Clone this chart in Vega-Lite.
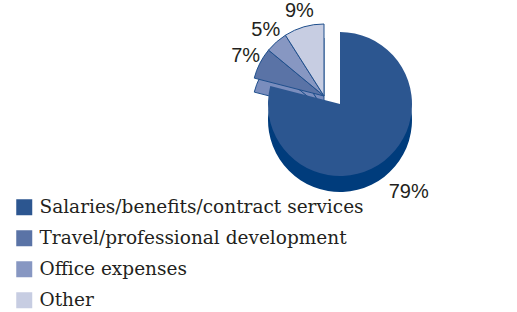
{
  "$schema": "https://vega.github.io/schema/vega-lite/v6.json",
  "autosize": {"type": "none"},
  "width": 160,
  "height": 208,
  "padding": {"left": 260, "top": 0, "right": 97, "bottom": 104},
  "background": "white",
  "config": {
    "view": {"stroke": null}
  },
  "data": {
    "values": [
      {"type": "Salaries/benefits/contract services", "value": 0.79, "rank": 1},
      {"type": "Travel/professional development", "value": 0.07, "rank": 2},
      {"type": "Office expenses", "value": 0.05, "rank": 3},
      {"type": "Other", "value": 0.09, "rank": 4}
    ]
  },
  "encoding": {
    "theta": {"field": "value", "type": "quantitative", "stack": true},
    "order": {"field": "rank", "type": "quantitative"},
    "color": {
      "field": "type",
      "type": "nominal",
      "sort": null,
      "scale": {
        "domain": ["Salaries/benefits/contract services", "Travel/professional development", "Office expenses", "Other"],
        "range": ["#2c5690", "#5a73a6", "#8797c2", "#c7cde2"]
      },
      "legend": {
        "title": null,
        "orient": "none",
        "legendX": -245,
        "legendY": 198,
        "labelFont": "DejaVu Serif",
        "labelFontSize": 18.5,
        "labelColor": "#231f20",
        "labelLimit": 400,
        "labelOffset": 6,
        "rowPadding": 12,
        "symbolType": "square",
        "symbolSize": 256,
        "symbolStrokeWidth": 0,
        "symbolOpacity": 1
      }
    }
  },
  "layer": [
    {
      "mark": {"type": "arc", "radius": 72, "xOffset": -16, "yOffset": 6, "stroke": "#1f4f8c", "strokeWidth": 1},
      "encoding": {
        "color": {"value": "#7a8dbd"},
        "opacity": {"condition": {"test": "datum.rank > 1", "value": 1}, "value": 0}
      }
    },
    {
      "mark": {"type": "arc", "radius": 72, "xOffset": -16, "yOffset": -8, "stroke": "#1f4f8c", "strokeWidth": 1},
      "encoding": {
        "opacity": {"condition": {"test": "datum.rank > 1", "value": 1}, "value": 0}
      }
    },
    {
      "mark": {"type": "arc", "radius": 72, "yOffset": 16},
      "encoding": {
        "color": {"value": "#003c7c"},
        "opacity": {"condition": {"test": "datum.rank == 1", "value": 1}, "value": 0}
      }
    },
    {
      "mark": {"type": "arc", "radius": 72},
      "encoding": {
        "opacity": {"condition": {"test": "datum.rank == 1", "value": 1}, "value": 0}
      }
    },
    {
      "mark": {"type": "text", "radius": 112, "font": "Liberation Sans", "fontSize": 20},
      "encoding": {
        "text": {"field": "value", "type": "quantitative", "format": ".0%"},
        "color": {"value": "#231f20"},
        "opacity": {"condition": {"test": "datum.rank == 1", "value": 1}, "value": 0}
      }
    },
    {
      "mark": {"type": "text", "radius": 88, "xOffset": -16, "yOffset": -8, "font": "Liberation Sans", "fontSize": 20},
      "encoding": {
        "text": {"field": "value", "type": "quantitative", "format": ".0%"},
        "color": {"value": "#231f20"},
        "opacity": {"condition": {"test": "datum.rank > 1", "value": 1}, "value": 0}
      }
    }
  ]
}
